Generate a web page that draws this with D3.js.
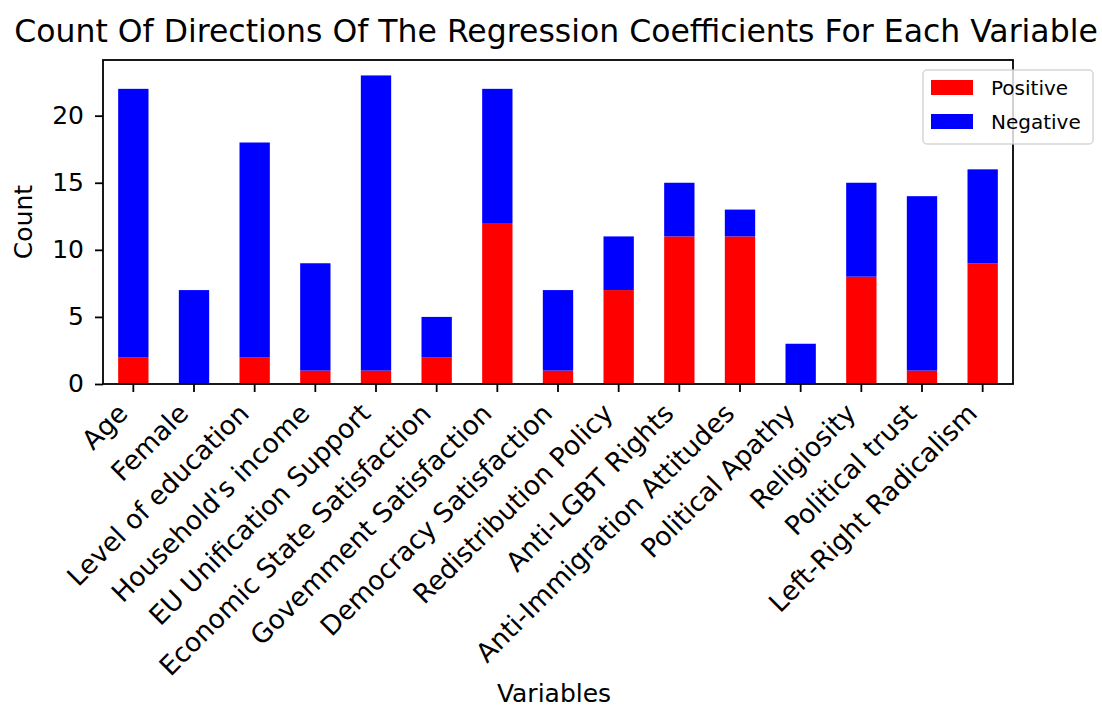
<!DOCTYPE html>
<html>
<head>
<meta charset="utf-8">
<script src="https://cdn.jsdelivr.net/npm/d3@7"></script>
<style>
  html, body { margin: 0; padding: 0; background: #fff; }
  svg text { font-family: "DejaVu Sans", sans-serif; fill: #000; }
</style>
</head>
<body>
<svg id="chart" width="1102" height="710"></svg>
<script>
// Variables in the regression models
const categories = [
  "Age", "Female", "Level of education", "Household's income",
  "EU Unification Support", "Economic State Satisfaction",
  "Govemment Satisfaction", "Democracy Satisfaction",
  "Redistribution Policy", "Anti-LGBT Rights", "Anti-Immigration Attitudes",
  "Political Apathy", "Religiosity", "Political trust", "Left-Right Radicalism"
];
// Number of models in which each coefficient was positive / negative
const positive = [2, 0, 2, 1, 1, 2, 12, 1, 7, 11, 11, 0, 8, 1, 9];
const negative = [20, 7, 16, 8, 22, 3, 10, 6, 4, 4, 2, 3, 7, 13, 7];
const seriesNames = ["Positive", "Negative"];
const seriesColors = ["#ff0000", "#0000ff"];
const yTicks = [0, 5, 10, 15, 20];

const svg = d3.select("#chart");
const plot = { left: 103, right: 1013, top: 60, bottom: 384 };
const labelSize = "25px";

const rows = categories.map((c, i) => ({ category: c, Positive: positive[i], Negative: negative[i] }));
const stacked = d3.stack().keys(seriesNames)(rows);
const maxTotal = d3.max(rows, d => d.Positive + d.Negative);

const x = d3.scaleBand()
  .domain(categories)
  .range([plot.left, plot.right])
  .paddingInner(0.5)
  .paddingOuter(0.25);

const y = d3.scaleLinear()
  .domain([0, maxTotal * 1.05])
  .range([plot.bottom, plot.top]);

// Stacked bars
svg.append("g")
  .selectAll("g")
  .data(stacked)
  .join("g")
  .attr("fill", (d, i) => seriesColors[i])
  .selectAll("rect")
  .data(d => d)
  .join("rect")
  .attr("x", d => x(d.data.category))
  .attr("width", x.bandwidth())
  .attr("y", d => y(d[1]))
  .attr("height", d => y(d[0]) - y(d[1]));

// Y axis
const yAxis = svg.append("g")
  .attr("transform", `translate(${plot.left},0)`)
  .call(d3.axisLeft(y).tickValues(yTicks).tickSize(8).tickFormat(d3.format("d")));
yAxis.select(".domain").remove();
yAxis.selectAll(".tick line").attr("stroke", "#000").attr("stroke-width", 1.8);
yAxis.selectAll(".tick text")
  .style("font-size", labelSize)
  .attr("x", -19)
  .attr("dy", "0.3em");

// X axis with rotated category names
const xAxis = svg.append("g")
  .attr("transform", `translate(0,${plot.bottom})`)
  .call(d3.axisBottom(x).tickSize(8).tickSizeOuter(0));
xAxis.select(".domain").remove();
xAxis.selectAll(".tick line").attr("stroke", "#000").attr("stroke-width", 1.8);
xAxis.selectAll(".tick text")
  .style("font-size", "26.5px")
  .attr("text-anchor", "end")
  .attr("dy", null)
  .attr("y", null)
  .attr("transform", "translate(-4,31) rotate(-45)");

// Plot frame
svg.append("rect")
  .attr("x", plot.left)
  .attr("y", plot.top)
  .attr("width", plot.right - plot.left)
  .attr("height", plot.bottom - plot.top)
  .attr("fill", "none")
  .attr("stroke", "#000")
  .attr("stroke-width", 1.8);

// Title and axis labels
svg.append("text")
  .attr("x", 556)
  .attr("y", 42)
  .attr("text-anchor", "middle")
  .style("font-size", "31.5px")
  .text("Count Of Directions Of The Regression Coefficients For Each Variable");

svg.append("text")
  .attr("transform", `translate(32,${(plot.top + plot.bottom) / 2}) rotate(-90)`)
  .attr("text-anchor", "middle")
  .style("font-size", labelSize)
  .text("Count");

svg.append("text")
  .attr("x", (plot.left + plot.right) / 2 - 4)
  .attr("y", 702)
  .attr("text-anchor", "middle")
  .style("font-size", labelSize)
  .text("Variables");

// Legend
const legend = svg.append("g").attr("transform", "translate(923,70)");
legend.append("rect")
  .attr("width", 170)
  .attr("height", 74)
  .attr("rx", 4)
  .attr("fill", "#fff")
  .attr("fill-opacity", 0.8)
  .attr("stroke", "#ccc")
  .attr("stroke-opacity", 0.8)
  .attr("stroke-width", 1.5);
const items = legend.selectAll("g.item")
  .data(seriesNames)
  .join("g")
  .attr("class", "item")
  .attr("transform", (d, i) => `translate(8,${10 + i * 34})`);
items.append("rect")
  .attr("width", 42)
  .attr("height", 15)
  .attr("fill", (d, i) => seriesColors[i]);
items.append("text")
  .attr("x", 60)
  .attr("y", 14.5)
  .style("font-size", "20px")
  .text(d => d);
</script>
</body>
</html>
